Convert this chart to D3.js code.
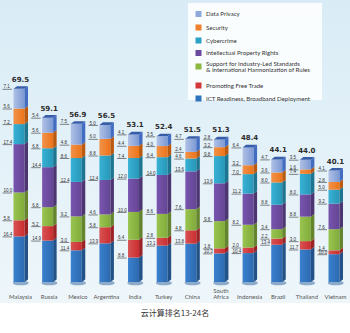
<!DOCTYPE html>
<html><head><meta charset="utf-8">
<script src="https://cdn.jsdelivr.net/npm/d3@7"></script>
<style>body{margin:0;background:#fff}svg{display:block}</style>
</head><body><svg id="c" width="350" height="333"></svg>
<script>
const countries = ["Malaysia","Russia","Mexico","Argentina","India","Turkey","China","South Africa","Indonesia","Brazil","Thailand","Vietnam"];
const totals = [69.5,59.1,56.9,56.5,53.1,52.4,51.5,51.3,48.4,44.1,44.0,40.1];
const seriesNames = ["ICT Readiness, Broadband Deployment","Promoting Free Trade","Support for Industry-Led Standards & International Harmonization of Rules","Intellectual Property Rights","Cybercrime","Security","Data Privacy"];
const ict       = [16.4,14.9,11.4,13.9,8.8,13.1,13.8,10.3,10.4,13.4,11.7,10.0];
const freeTrade = [5.8,5.2,3.0,5.8,6.4,2.8,4.8,1.8,2.0,2.2,3.0,1.4];
const standards = [10.0,6.8,9.2,4.6,10.0,8.6,7.6,9.8,8.2,3.4,8.8,7.6];
const ipr       = [17.4,14.4,12.4,12.4,12.0,14.0,13.6,13.6,11.2,8.8,8.0,9.2];
const cybercrime= [7.2,6.8,8.6,8.8,7.4,6.4,4.6,9.8,7.0,8.0,7.4,5.0];
const security  = [5.6,5.6,4.8,6.0,4.4,4.0,2.4,3.2,3.2,3.6,1.6,2.8];
const privacy   = [7.1,5.4,7.5,5.0,4.1,3.5,4.7,2.8,6.4,4.7,3.5,4.1];
const seriesValues = [ict,freeTrade,standards,ipr,cybercrime,security,privacy];
const colors = ["#2f72bd","#d2383a","#8bb83e","#6b4a9e","#2aa2c6","#ee7f2b","#8fa8da"];
const legendOrder = [6,5,4,3,2,1,0];
const caption = "云计算排名13-24名";

const svg = d3.select("#c");
const defs = svg.append("defs");
const bg = defs.append("linearGradient").attr("id","bg").attr("x1",0).attr("y1",0).attr("x2",0).attr("y2",1);
bg.append("stop").attr("offset","0").attr("stop-color","#d9ecf6");
bg.append("stop").attr("offset","1").attr("stop-color","#eef6fa");
svg.append("rect").attr("width",350).attr("height",303).attr("fill","url(#bg)");
svg.append("rect").attr("y",303).attr("width",350).attr("height",30).attr("fill","#ffffff");

const x = d3.scalePoint().domain(countries).range([20.5,335.5]);
const y = d3.scaleLinear().domain([0,70]).range([282,87.4]);
const bw = 11;
const dx = 3.5, dy = 2.6;

function shade(c,k){const h=d3.hsl(c);h.l=h.l*k;return h.formatHex();}

countries.forEach((c,i)=>{
  const g = svg.append("g");
  const x0 = x(c) - 7;
  g.append("ellipse").attr("cx",x0+bw/2+dx/2).attr("cy",y(0)+1).attr("rx",bw/2+2.5).attr("ry",2.3).attr("fill","#2b5f99").attr("opacity",0.5);
  let cum = 0;
  seriesValues.forEach((arr,s)=>{
    const v = arr[i];
    const yb = y(cum), yt = y(cum+v);
    const col = colors[s];
    const gid = "g"+i+"_"+s;
    const lg = defs.append("linearGradient").attr("id",gid);
    lg.append("stop").attr("offset","0").attr("stop-color",shade(col,1.12));
    lg.append("stop").attr("offset","1").attr("stop-color",shade(col,0.93));
    g.append("rect").attr("x",x0).attr("y",yt).attr("width",bw).attr("height",yb-yt).attr("fill","url(#"+gid+")");
    g.append("path").attr("d",`M${x0+bw},${yt}L${x0+bw+dx},${yt-dy}L${x0+bw+dx},${yb-dy}L${x0+bw},${yb}Z`).attr("fill",shade(col,0.72));
    g.append("line").attr("x1",x0-11).attr("x2",x0-1.5).attr("y1",yt+0.5).attr("y2",yt+0.5).attr("stroke","#333").attr("stroke-width",0.6);
    g.append("text").attr("x",x0-10).attr("y",yt-0.4).attr("font-family","Liberation Sans, Arial, sans-serif").attr("font-size",4.5).attr("fill","#333").text(v.toFixed(1));
    cum += v;
  });
  const top = y(cum);
  g.append("path").attr("d",`M${x0},${top}L${x0+dx},${top-dy}L${x0+bw+dx},${top-dy}L${x0+bw},${top}Z`).attr("fill",shade(colors[6],0.62));
  g.append("text").attr("x",x0+bw/2+1.5).attr("y",y(totals[i])-7).attr("text-anchor","middle")
    .attr("font-family","DejaVu Sans, sans-serif").attr("font-weight","bold").attr("font-size",7).attr("fill","#2b2b2b").text(totals[i].toFixed(1));
  const parts = c==="South Africa" ? ["South","Africa"] : [c];
  parts.forEach((p,k)=>{
    g.append("text").attr("x",x0+bw/2+1.5).attr("y",parts.length>1 ? 293 + k*6.2 : 299.2).attr("text-anchor","middle")
      .attr("font-family","Lato, Open Sans, sans-serif").attr("font-size",6).attr("fill","#555").text(p);
  });
});

const lgd = svg.append("g");
lgd.append("rect").attr("x",188).attr("y",3).attr("width",134).attr("height",97).attr("fill","#ffffff").attr("opacity",0.85);
const ly = [14,27.5,40.5,53,66.5,85.5,98.5];
legendOrder.forEach((s,k)=>{
  lgd.append("rect").attr("x",195.5).attr("y",ly[k]-3).attr("width",6).attr("height",6).attr("fill",colors[s]);
  const lines = s===2 ? ["Support for Industry-Led Standards","& International Harmonization of Rules"] : [seriesNames[s]];
  lines.forEach((t,j)=>{
    lgd.append("text").attr("x",206).attr("y",ly[k]+2.1+(lines.length>1 ? (j*5.8-2.6) : 0))
      .attr("font-family","Lato, Open Sans, sans-serif").attr("font-size",6.1).attr("fill","#333").text(t);
  });
});

svg.append("text").attr("x",175).attr("y",316).attr("text-anchor","middle").attr("font-family","Noto Sans CJK SC, sans-serif")
  .attr("font-size",8).attr("fill","#333").text(caption);
</script></body></html>
